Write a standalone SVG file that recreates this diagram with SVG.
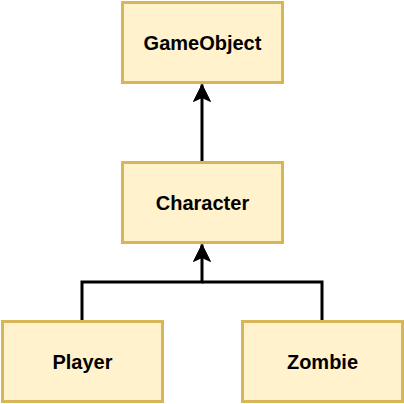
<svg xmlns="http://www.w3.org/2000/svg" width="404" height="404" viewBox="0 0 404 404">
<style>
.box{fill:#fff2cc;stroke:#d6b656;stroke-width:3}
.lbl{font-family:"Liberation Sans",Arial,sans-serif;font-weight:bold;font-size:20px;fill:#000;text-anchor:middle}
.edge{fill:none;stroke:#000;stroke-width:3}
</style>
<defs>
<marker id="arr" markerUnits="userSpaceOnUse" markerWidth="20" markerHeight="20" viewBox="0 0 20 20" refX="19" refY="10" orient="auto">
<path d="M19,10 L2,1.5 L6,10 L2,18.5 Z" fill="#000" stroke="#000" stroke-width="1"/>
</marker>
</defs>
<rect width="404" height="404" fill="#fff"/>
<g id="edges">
<path class="edge" d="M202,162 V84.5" marker-end="url(#arr)"/>
<path class="edge" d="M82,321 V282 H202 V244.5" marker-end="url(#arr)"/>
<path class="edge" d="M322,321 V282 H202"/>
</g>
<g id="GameObject"><rect class="box" x="122.5" y="2.5" width="160" height="80"/><text class="lbl" x="202.5" y="49.5">GameObject</text></g>
<g id="Character"><rect class="box" x="122.5" y="162.5" width="160" height="80"/><text class="lbl" x="202.5" y="209.5">Character</text></g>
<g id="Player"><rect class="box" x="2.5" y="321.5" width="160" height="80"/><text class="lbl" x="82.5" y="368.5">Player</text></g>
<g id="Zombie"><rect class="box" x="242.5" y="321.5" width="160" height="80"/><text class="lbl" x="322.5" y="368.5">Zombie</text></g>
</svg>
